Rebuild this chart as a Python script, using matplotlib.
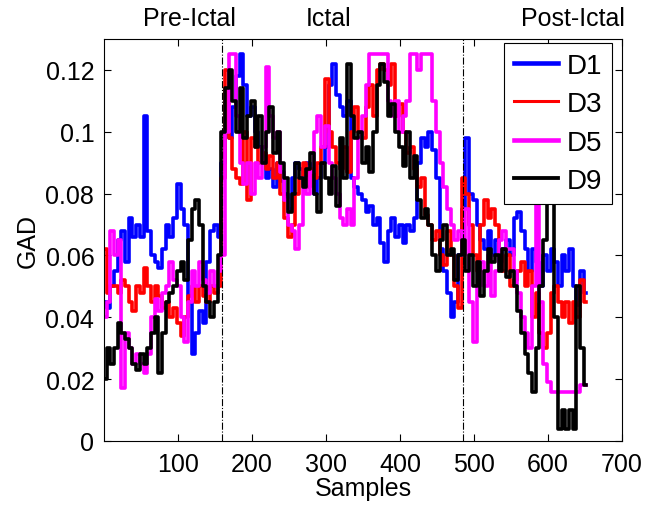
import numpy as np
import matplotlib
matplotlib.use("Agg")
import matplotlib.pyplot as plt

plt.rcParams['font.family'] = ['Liberation Sans', 'DejaVu Sans']

# sample index, every 5 samples (1 ... 651)
samples = np.arange(1, 652, 5)

d1 = [0.045, 0.043, 0.050, 0.055, 0.065, 0.068, 0.058, 0.072, 0.066, 0.070,
      0.066, 0.105, 0.068, 0.060, 0.058, 0.056, 0.062, 0.070, 0.066, 0.072,
      0.083, 0.075, 0.070, 0.045, 0.028, 0.035, 0.042, 0.038, 0.058, 0.068,
      0.070, 0.066, 0.090, 0.100, 0.098, 0.108, 0.118, 0.125, 0.115, 0.105,
      0.108, 0.100, 0.095, 0.092, 0.085, 0.088, 0.082, 0.090, 0.084, 0.080,
      0.075, 0.085, 0.090, 0.088, 0.083, 0.090, 0.087, 0.080, 0.085, 0.090,
      0.095, 0.115, 0.122, 0.112, 0.108, 0.105, 0.110, 0.085, 0.082, 0.080,
      0.078, 0.074, 0.076, 0.070, 0.072, 0.064, 0.058, 0.068, 0.072, 0.066,
      0.070, 0.064, 0.070, 0.068, 0.072, 0.090, 0.098, 0.095, 0.100, 0.094,
      0.085, 0.062, 0.055, 0.048, 0.040, 0.045, 0.060, 0.075, 0.098, 0.080,
      0.078, 0.070, 0.065, 0.062, 0.068, 0.060, 0.065, 0.058, 0.062, 0.065,
      0.060, 0.072, 0.074, 0.068, 0.062, 0.055, 0.062, 0.058, 0.050, 0.060,
      0.055, 0.062, 0.058, 0.050, 0.060, 0.055, 0.062, 0.050, 0.044, 0.055,
      0.048]

d3 = [0.062, 0.048, 0.050, 0.050, 0.048, 0.052, 0.050, 0.045, 0.042, 0.050,
      0.048, 0.056, 0.050, 0.045, 0.050, 0.047, 0.043, 0.045, 0.040, 0.043,
      0.038, 0.034, 0.040, 0.047, 0.050, 0.045, 0.050, 0.047, 0.045, 0.050,
      0.048, 0.050, 0.085, 0.120, 0.098, 0.088, 0.085, 0.083, 0.100, 0.078,
      0.098, 0.095, 0.090, 0.093, 0.088, 0.092, 0.085, 0.090, 0.080, 0.072,
      0.066, 0.070, 0.080, 0.085, 0.090, 0.082, 0.088, 0.085, 0.090, 0.095,
      0.117, 0.100, 0.095, 0.090, 0.088, 0.095, 0.087, 0.100, 0.108, 0.100,
      0.098, 0.108, 0.115, 0.105, 0.120, 0.122, 0.120, 0.115, 0.122, 0.105,
      0.109, 0.100, 0.093, 0.095, 0.088, 0.082, 0.085, 0.073, 0.070, 0.065,
      0.068, 0.060, 0.057, 0.068, 0.060, 0.050, 0.043, 0.085, 0.080, 0.070,
      0.060, 0.055, 0.070, 0.078, 0.072, 0.075, 0.070, 0.060, 0.055, 0.060,
      0.050, 0.052, 0.055, 0.058, 0.050, 0.055, 0.040, 0.048, 0.035, 0.030,
      0.035, 0.048, 0.050, 0.045, 0.040, 0.045, 0.038, 0.045, 0.040, 0.052,
      0.045]

d5 = [0.040, 0.045, 0.068, 0.060, 0.065, 0.017, 0.035, 0.030, 0.025, 0.028,
      0.025, 0.022, 0.028, 0.040, 0.046, 0.042, 0.048, 0.050, 0.058, 0.052,
      0.050, 0.040, 0.032, 0.045, 0.055, 0.050, 0.058, 0.052, 0.048, 0.055,
      0.050, 0.055, 0.060, 0.100, 0.125, 0.125, 0.105, 0.090, 0.083, 0.090,
      0.080, 0.090, 0.085, 0.095, 0.121, 0.105, 0.098, 0.100, 0.087, 0.078,
      0.070, 0.068, 0.062, 0.070, 0.085, 0.080, 0.087, 0.100, 0.105, 0.095,
      0.102, 0.090, 0.085, 0.080, 0.072, 0.070, 0.075, 0.070, 0.085, 0.098,
      0.105, 0.115, 0.125, 0.125, 0.125, 0.125, 0.125, 0.110, 0.105, 0.110,
      0.100, 0.105, 0.110, 0.125, 0.125, 0.120, 0.125, 0.125, 0.125, 0.110,
      0.100, 0.090, 0.082, 0.075, 0.070, 0.065, 0.068, 0.060, 0.075, 0.045,
      0.032, 0.050, 0.058, 0.050, 0.060, 0.047, 0.055, 0.065, 0.068, 0.062,
      0.062, 0.055, 0.048, 0.040, 0.035, 0.030, 0.050, 0.077, 0.045, 0.025,
      0.019, 0.016, 0.016, 0.016, 0.016, 0.016, 0.016, 0.016, 0.016, 0.018,
      0.018]

d9 = [0.020, 0.030, 0.025, 0.030, 0.038, 0.035, 0.033, 0.030, 0.025, 0.023,
      0.028, 0.025, 0.030, 0.035, 0.040, 0.022, 0.035, 0.045, 0.048, 0.050,
      0.055, 0.058, 0.052, 0.065, 0.075, 0.078, 0.070, 0.050, 0.045, 0.040,
      0.045, 0.060, 0.100, 0.114, 0.120, 0.110, 0.100, 0.114, 0.098, 0.105,
      0.110, 0.095, 0.105, 0.090, 0.100, 0.108, 0.093, 0.100, 0.090, 0.085,
      0.074, 0.080, 0.090, 0.085, 0.082, 0.088, 0.093, 0.080, 0.074, 0.090,
      0.085, 0.080, 0.089, 0.076, 0.098, 0.085, 0.122, 0.105, 0.098, 0.100,
      0.090, 0.095, 0.087, 0.100, 0.115, 0.122, 0.116, 0.105, 0.109, 0.100,
      0.095, 0.089, 0.100, 0.085, 0.092, 0.078, 0.072, 0.075, 0.070, 0.060,
      0.055, 0.065, 0.070, 0.060, 0.062, 0.052, 0.060, 0.065, 0.055, 0.060,
      0.050, 0.058, 0.047, 0.055, 0.062, 0.058, 0.060, 0.055, 0.062, 0.053,
      0.055, 0.050, 0.042, 0.035, 0.028, 0.022, 0.016, 0.030, 0.050, 0.065,
      0.080, 0.085, 0.040, 0.004, 0.010, 0.004, 0.010, 0.004, 0.050, 0.030,
      0.018]

series = [('D1', d1, '#0000FF', 3.0), ('D3', d3, '#FF0000', 2.0),
          ('D5', d5, '#FF00FF', 3.0), ('D9', d9, '#000000', 2.5)]
phase_bounds = [160, 485]
phase_labels = [(115, 'Pre-Ictal'), (304, 'Ictal'), (634, 'Post-Ictal')]

fig = plt.figure(figsize=(6.45, 5.06), dpi=100)
ax = fig.add_axes([0.1612, 0.1265, 0.8031, 0.7945])

for name, vals, c, lw in series:
    ax.plot(samples, vals, color=c, lw=2.6, drawstyle='steps-mid', label=name)

for b in phase_bounds:
    ax.axvline(b, color='k', lw=0.8, ls='-.')

for x, t in phase_labels:
    ax.text(x, 0.1368, t, ha='center', va='center', fontsize=18, clip_on=False)

ax.set_xlim(0, 700)
ax.set_ylim(0, 0.13)
ax.set_xticks([100, 200, 300, 400, 500, 600, 700])
ax.set_yticks([0, 0.02, 0.04, 0.06, 0.08, 0.1, 0.12])
ax.set_yticklabels(['0', '0.02', '0.04', '0.06', '0.08', '0.1', '0.12'])
ax.tick_params(direction='in', top=True, right=True, labelsize=18, length=5, width=0.8)
ax.tick_params(axis='x', pad=8)
ax.tick_params(axis='y', pad=7)
ax.set_xlabel('Samples', fontsize=18, labelpad=0)
ax.set_ylabel('GAD', fontsize=18, labelpad=4)

leg = ax.legend(loc='upper right', bbox_to_anchor=(0.98, 0.99), borderaxespad=0,
                fontsize=20, handlelength=1.6, handletextpad=0.3, labelspacing=0.45,
                borderpad=0.35, fancybox=False, framealpha=1, edgecolor='k')
leg.get_frame().set_linewidth(0.8)
for line, (_, _, _, lw) in zip(leg.get_lines(), series):
    line.set_linewidth(lw * 1.1)

fig.savefig('out.png', dpi=100)
